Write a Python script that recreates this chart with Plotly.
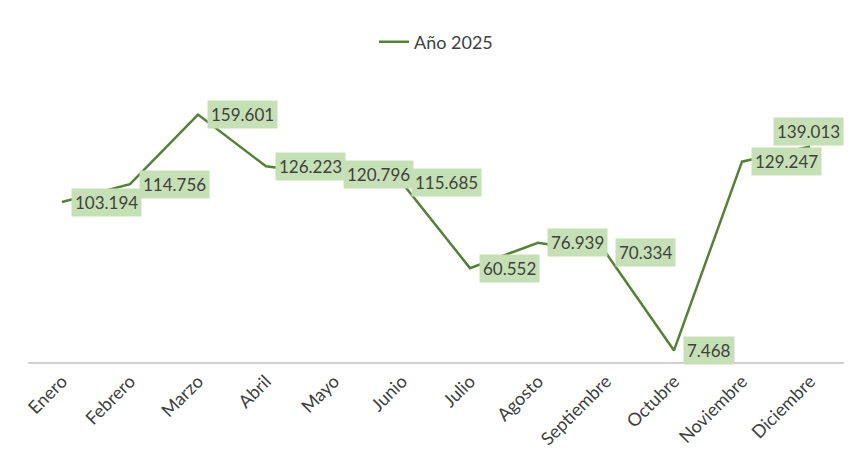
import plotly.graph_objects as go

# Monthly values, year 2025
meses = ['Enero', 'Febrero', 'Marzo', 'Abril', 'Mayo', 'Junio', 'Julio',
         'Agosto', 'Septiembre', 'Octubre', 'Noviembre', 'Diciembre']
valores = [103.194, 114.756, 159.601, 126.223, 120.796, 115.685, 60.552,
           76.939, 70.334, 7.468, 129.247, 139.013]
etiquetas = ['103.194', '114.756', '159.601', '126.223', '120.796', '115.685',
             '60.552', '76.939', '70.334', '7.468', '129.247', '139.013']

verde = '#548235'
gris = '#404040'

fig = go.Figure()

fig.add_trace(go.Scatter(
    x=meses, y=valores, mode='lines', name='Año 2025',
    line=dict(color=verde, width=2.5)
))

# data labels in light green boxes, right of each point
for i, (m, v, t) in enumerate(zip(meses, valores, etiquetas)):
    ultimo = i == len(meses) - 1
    fig.add_annotation(
        x=m, y=v, text=t, showarrow=False,
        xanchor='right' if ultimo else 'left', yanchor='middle',
        xshift=34 if ultimo else 9, yshift=15 if ultimo else 0,
        bgcolor='#c5e0b4', borderpad=3,
        font=dict(family='Lato', size=17, color=gris)
    )

# page body has an 8px margin, so the figure is 8px smaller each way
fig.update_layout(
    width=848, height=466,
    margin=dict(l=20, r=12, t=75, b=112),
    plot_bgcolor='white', paper_bgcolor='white',
    font=dict(family='Lato', color=gris),
    showlegend=True,
    legend=dict(orientation='h', x=0.5, xanchor='center', y=1.147, yanchor='middle',
                font=dict(size=18, color=gris)),
    xaxis=dict(range=[-0.5, 11.5], tickangle=-45, showgrid=False, automargin=False,
               showline=True, linecolor='#d0d0d0', linewidth=1.5,
               ticks='', tickfont=dict(size=18, color=gris)),
    yaxis=dict(range=[0, 180], visible=False, showgrid=False, automargin=False),
)

fig.write_html("out.html")
